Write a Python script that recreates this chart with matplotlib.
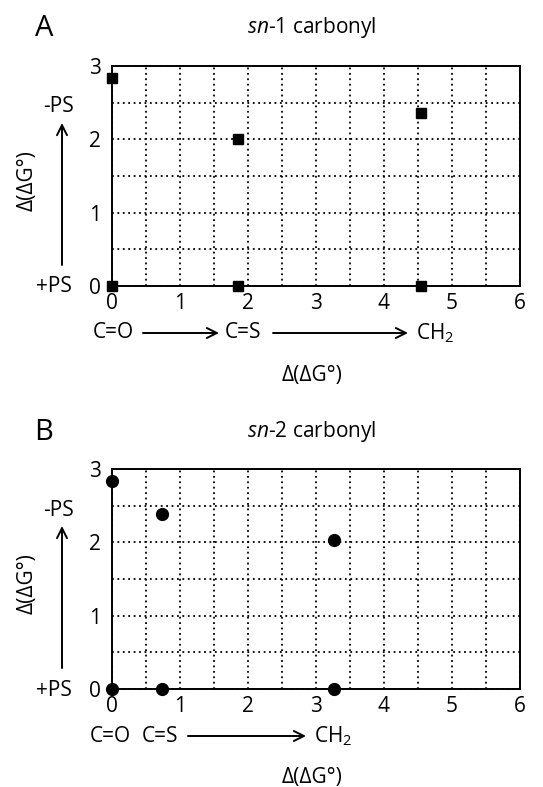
import numpy as np
import matplotlib
matplotlib.use("Agg")
import matplotlib.pyplot as plt
from matplotlib.patches import FancyArrowPatch

plt.rcParams["font.family"] = ["Open Sans", "DejaVu Sans"]
plt.rcParams["mathtext.fontset"] = "custom"
plt.rcParams["mathtext.rm"] = "Open Sans"
plt.rcParams["mathtext.it"] = "Open Sans:italic"

W, H = 543, 787

# panel A: sn-1 carbonyl (squares)
sn1_x = [0.0, 1.86, 4.55, 0.0, 1.86, 4.55]
sn1_y = [2.83, 2.01, 2.36, 0.0, 0.0, 0.0]

# panel B: sn-2 carbonyl (circles)
sn2_x = [0.0, 0.74, 3.26, 0.0, 0.74, 3.26]
sn2_y = [2.84, 2.38, 2.03, 0.0, 0.0, 0.0]

x_ticks = [0, 1, 2, 3, 4, 5, 6]
y_ticks = [0, 1, 2, 3]
FS = 15


def fx(px):
    return px / W


def fy(py):
    return 1 - py / H


def arrow(fig, x0, y0, x1, y1):
    fig.add_artist(FancyArrowPatch((fx(x0), fy(y0)), (fx(x1), fy(y1)),
                                   transform=fig.transFigure, arrowstyle="->",
                                   mutation_scale=18, lw=1.4, color="k",
                                   shrinkA=0, shrinkB=0))


def panel(fig, top, xs, ys, marker, ms, letter, label_no, row):
    # axes box in pixels: x 112..520, height 220
    ax = fig.add_axes([fx(112), fy(top + 220), fx(520) - fx(112), 220 / H])
    ax.plot(xs, ys, linestyle="none", marker=marker, ms=ms, color="k",
            clip_on=False, zorder=5)
    ax.set_xlim(0, 6)
    ax.set_ylim(0, 3)
    ax.set_xticks(x_ticks)
    ax.set_yticks(y_ticks)
    ax.set_xticks(np.arange(0, 6.01, 0.5), minor=True)
    ax.set_yticks(np.arange(0, 3.01, 0.5), minor=True)
    ax.grid(which="both", linestyle=(0, (1, 2)), color="k", lw=1.3)
    ax.tick_params(which="both", length=0, labelsize=FS)
    ax.tick_params(axis="x", pad=5)
    ax.tick_params(axis="y", pad=8)
    for s in ax.spines.values():
        s.set_linewidth(1.4)

    # panel letter and title
    fig.text(fx(44), fy(top - 37), letter, fontsize=21, ha="center", va="center")
    fig.text(fx(312), fy(top - 38), r"$\mathit{sn}$-" + label_no + " carbonyl",
             fontsize=FS, ha="center", va="center")

    # left side: -PS / arrow / +PS and y label
    fig.text(fx(74), fy(top + 41), "-PS", fontsize=FS, ha="right", va="center")
    fig.text(fx(72), fy(top + 221), "+PS", fontsize=FS, ha="right", va="center")
    arrow(fig, 62, top + 199, 62, top + 57)
    fig.text(fx(27), fy(top + 115), "Δ(ΔG°)", fontsize=FS, rotation=90,
             ha="center", va="center")

    # bottom row: chemical substitution arrows
    ry = top + 267
    for txt, px, ha in row["labels"]:
        fig.text(fx(px), fy(ry), txt, fontsize=FS, ha=ha, va="center")
    for a0, a1 in row["arrows"]:
        arrow(fig, a0, ry, a1, ry)
    fig.text(fx(312), fy(top + 309), "Δ(ΔG°)", fontsize=FS, ha="center", va="center")
    return ax


fig = plt.figure(figsize=(W / 100, H / 100), dpi=100)

row_a = {"labels": [("C=O", 93, "left"), ("C=S", 225, "left"), ("CH$_2$", 416, "left")],
         "arrows": [(143, 219), (273, 408)]}
row_b = {"labels": [("C=O", 90, "left"), ("C=S", 142, "left"), ("CH$_2$", 314, "left")],
         "arrows": [(188, 306)]}

panel(fig, 66, sn1_x, sn1_y, "s", 7.5, "A", "1", row_a)
panel(fig, 469, sn2_x, sn2_y, "o", 8.5, "B", "2", row_b)

fig.savefig("out.png", dpi=100)
